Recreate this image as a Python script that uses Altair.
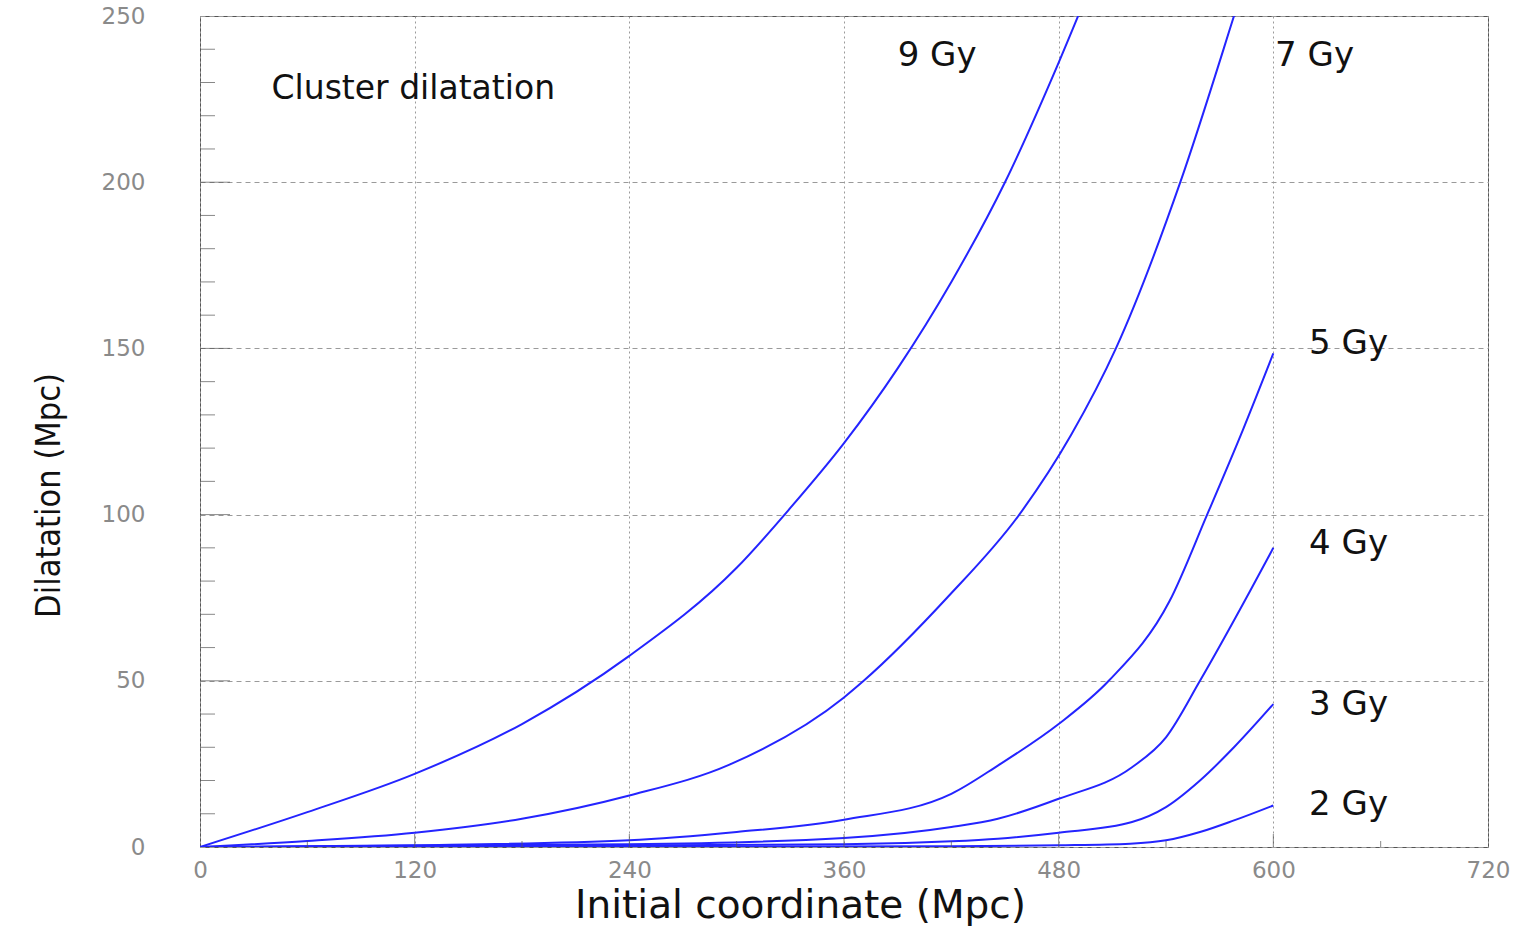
import altair as alt
import pandas as pd

# Dilatation of a cluster versus its initial coordinate, one curve per elapsed time
curve_names = ["9 Gy", "7 Gy", "5 Gy", "4 Gy", "3 Gy", "2 Gy"]

x_9gy = [0, 60, 120, 180, 240, 300, 330, 360, 390, 420, 450, 480, 500]
y_9gy = [0, 10.5, 22, 37, 57.5, 84, 102, 121.5, 144, 170, 200, 236, 262]

x_7gy = [0, 60, 120, 180, 240, 296, 360, 371, 418, 458, 487, 512, 548, 578, 585]
y_7gy = [0, 1.8, 4.3, 8.5, 15.5, 24.8, 45, 50, 75.2, 100, 124, 150, 200, 250, 262]

x_5gy = [0, 120, 240, 300, 360, 420, 446, 480, 508, 542, 563, 583, 600]
y_5gy = [0, 0.5, 2, 4.5, 8.2, 16, 24.5, 37, 50, 74, 100, 125.5, 148.5]

x_4gy = [0, 240, 360, 420, 446, 480, 521, 540, 559, 587, 600]
y_4gy = [0, 0.8, 2.7, 6, 8.5, 14.5, 24, 33, 50, 77, 90]

x_3gy = [0, 360, 420, 446, 480, 521, 540, 559, 578, 600]
y_3gy = [0, 0.8, 1.7, 2.5, 4.3, 7.5, 12, 20, 30, 43]

x_2gy = [0, 420, 480, 520, 540, 559, 578, 600]
y_2gy = [0, 0.2, 0.5, 1.0, 2, 4.5, 8, 12.5]

# Curve annotations (left edge, baseline)
label_text = ["9 Gy", "7 Gy", "5 Gy", "4 Gy", "3 Gy", "2 Gy"]
label_x = [390, 601, 620, 620, 620, 620]
label_y = [235, 235, 148.3, 88.1, 39.7, 9.6]

title_text = ["Cluster dilatation"]
title_x = [40]
title_y = [225]

# Axis tick positions
x_major = [0, 120, 240, 360, 480, 600, 720]
x_minor = [60, 180, 300, 420, 540, 660]
y_major = [0, 50, 100, 150, 200, 250]
y_minor = [v for v in range(10, 250, 10) if v % 50 != 0]

series = [x_9gy, x_7gy, x_5gy, x_4gy, x_3gy, x_2gy]
values = [y_9gy, y_7gy, y_5gy, y_4gy, y_3gy, y_2gy]
rows = []
for name, xs_, ys_ in zip(curve_names, series, values):
    for i, (xv, yv) in enumerate(zip(xs_, ys_)):
        rows.append({"curve": name, "order": i, "x": xv, "y": yv})
curves = pd.DataFrame(rows)

labels = pd.DataFrame({"text": label_text, "x": label_x, "y": label_y})
heading = pd.DataFrame({"text": title_text, "x": title_x, "y": title_y})
xmaj = pd.DataFrame({"x": x_major[1:-1], "y": [0] * (len(x_major) - 2)})
xmin = pd.DataFrame({"x": x_minor, "y": [0] * len(x_minor)})
ymaj = pd.DataFrame({"y": y_major[1:-1], "x": [0] * (len(y_major) - 2)})
ymin = pd.DataFrame({"y": y_minor, "x": [0] * len(y_minor)})

xs = alt.Scale(domain=[0, 720], nice=False, zero=False)
ys = alt.Scale(domain=[0, 250], nice=False, zero=False)

frame_color = "#555555"

X = lambda: alt.X("x:Q", scale=xs, axis=alt.Axis(values=x_major, title="Initial coordinate (Mpc)"))
Y = lambda: alt.Y("y:Q", scale=ys, axis=alt.Axis(values=y_major, title="Dilatation (Mpc)"))

lines = alt.Chart(curves).mark_line(
    color="#2424ff", strokeWidth=2, clip=True, interpolate="monotone"
).encode(x=X(), y=Y(), detail="curve:N", order="order:Q")

def xtick(df, length):
    return alt.Chart(df).mark_tick(
        orient="vertical", size=length, thickness=1, yOffset=-length / 2, color=frame_color
    ).encode(x=X(), y=Y())

def ytick(df, length):
    return alt.Chart(df).mark_tick(
        orient="horizontal", size=length, thickness=1, xOffset=length / 2, color=frame_color
    ).encode(x=X(), y=Y())

curve_labels = alt.Chart(labels).mark_text(
    font="DejaVu Sans", fontSize=34, color="#111111", align="left", baseline="alphabetic"
).encode(x=X(), y=Y(), text="text:N")

heading_text = alt.Chart(heading).mark_text(
    font="DejaVu Sans", fontSize=33, color="#111111", align="left", baseline="alphabetic"
).encode(x=X(), y=Y(), text="text:N")

chart = alt.layer(
    lines,
    xtick(xmaj, 13), xtick(xmin, 6),
    ytick(ymaj, 30), ytick(ymin, 15),
    curve_labels, heading_text,
).properties(
    width=1288, height=831,
    autosize=alt.AutoSizeParams(type="none"),
    padding={"left": 200, "top": 16, "right": 41, "bottom": 81},
    background="white",
).configure_view(
    stroke=frame_color, strokeWidth=1
).configure_axis(
    grid=True, gridColor="#9a9a9a", gridWidth=1, ticks=False, domain=False,
    labelFont="DejaVu Sans", labelFontSize=23, labelColor="#8a8a8a", labelFlush=False,
    titleColor="#111111", titleFontWeight="normal",
).configure_axisX(
    gridDash=[2, 3], labelPadding=12,
    titleFont="DejaVu Sans", titleFontSize=39, titleX=600, titleY=70,
    titleBaseline="alphabetic", titleAlign="center",
).configure_axisY(
    gridDash=[5, 4], labelPadding=55,
    titleFont="DejaVu Sans Condensed, Liberation Sans", titleFontSize=34,
    titleX=-141, titleY=479,
    titleAngle=270, titleBaseline="alphabetic", titleAlign="center",
)

chart.save("out.html", embed_options={"renderer": "svg", "actions": False})
